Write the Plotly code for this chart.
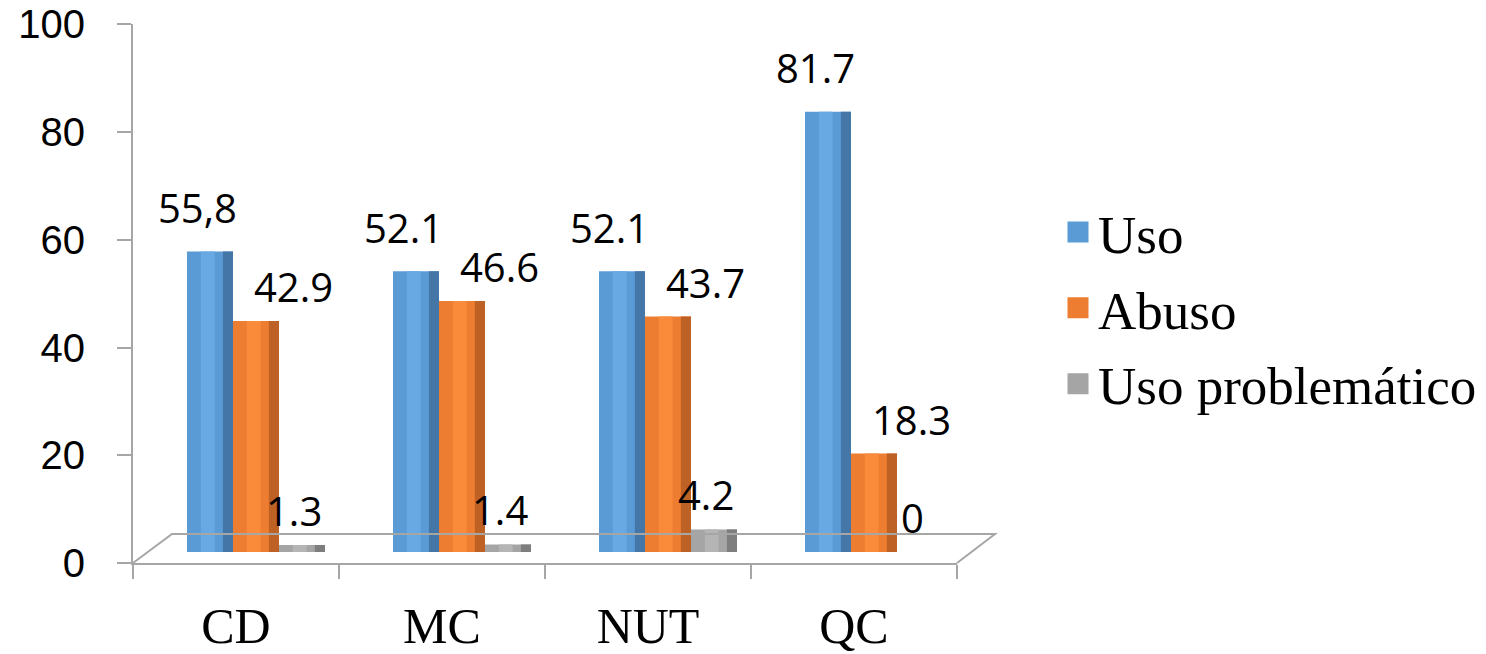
import plotly.graph_objects as go

categories = ["CD", "MC", "NUT", "QC"]
series_names = ["Uso", "Abuso", "Uso problemático"]
uso = [55.8, 52.1, 52.1, 81.7]
abuso = [42.9, 46.6, 43.7, 18.3]
uso_problematico = [1.3, 1.4, 4.2, 0]
uso_labels = ["55,8", "52.1", "52.1", "81.7"]
abuso_labels = ["42.9", "46.6", "43.7", "18.3"]
uso_problematico_labels = ["1.3", "1.4", "4.2", "0"]
y_ticks = [0, 20, 40, 60, 80, 100]

colors = ["#5B9BD5", "#ED7D31", "#A5A5A5"]
light_colors = ["#68A9E3", "#F98B3B", "#B5B5B5"]
dark_colors = ["#4476A8", "#BE6124", "#7E7E7E"]

W, H = 1486, 654
L, R, T, B = 133, 957, 24, 563
pw, ph = R - L, B - T
depth_dx, depth_dy = 20, 11  # half-depth offset of bars (px)

cat_px = pw / 4
bw = 46 / cat_px  # bar width in category units
offsets = [-1.5 * bw, -0.5 * bw, 0.5 * bw]

fig = go.Figure()

values = [uso, abuso, uso_problematico]
labels = [uso_labels, abuso_labels, uso_problematico_labels]
for name, vals, c, lc, dc, off in zip(series_names, values, colors, light_colors, dark_colors, offsets):
    fig.add_trace(go.Bar(
        x=categories, y=vals, name=name, marker=dict(color=c, line=dict(width=0)),
        width=bw, offset=off, xaxis="x2", yaxis="y2", showlegend=False,
        hoverinfo="x+y+name",
    ))
    # cylinder shading strips
    fig.add_trace(go.Bar(
        x=categories, y=vals, name=name, marker=dict(color=lc, line=dict(width=0)),
        width=bw * 0.3, offset=off + bw * 0.3, xaxis="x2", yaxis="y2", showlegend=False,
        hoverinfo="skip",
    ))
    fig.add_trace(go.Bar(
        x=categories, y=vals, name=name, marker=dict(color=dc, line=dict(width=0)),
        width=bw * 0.22, offset=off + bw * 0.78, xaxis="x2", yaxis="y2", showlegend=False,
        hoverinfo="skip",
    ))

# legend proxies
for name, c in zip(series_names, colors):
    fig.add_trace(go.Scatter(
        x=[None], y=[None], mode="markers", name=name, legendgroup=name,
        marker=dict(symbol="square", size=16, color=c, line=dict(color=c, width=5)),
        showlegend=True,
    ))

# data labels
label_dx = [-46 - 13, 37, 46 - 8]
label_dy = [44, 34, 35]
for vals, labs, dx, dy in zip(values, labels, label_dx, label_dy):
    for cat, v, t in zip(categories, vals, labs):
        fig.add_annotation(
            x=cat, y=v, xref="x2", yref="y2", text=t, showarrow=False,
            xshift=dx, yshift=dy, yanchor="middle", xanchor="center",
            font=dict(family="Open Sans", size=40, color="black"),
        )

# 3D floor outline
bx0 = 39 / pw
bx1 = 1 + 38 / pw
by = 29 / ph
fig.add_shape(type="path", xref="paper", yref="paper",
              path=f"M 0 0 L {bx0} {by} L {bx1} {by} L 1 0",
              line=dict(color="#A6A6A6", width=2))

shift_x = depth_dx / cat_px
shift_y = depth_dy / (ph / 100)

fig.update_layout(
    width=W, height=H,
    margin=dict(l=L, r=W - R, t=T, b=H - B, pad=0, autoexpand=False),
    paper_bgcolor="white", plot_bgcolor="white",
    barmode="overlay",
    showlegend=True,
    legend=dict(
        x=(1058 - L) / pw, y=(B - 308) / ph, xanchor="left", yanchor="middle",
        font=dict(family="Liberation Serif", size=53, color="black"),
        bgcolor="rgba(0,0,0,0)", itemsizing="trace",
        traceorder="grouped", tracegroupgap=4,
    ),
    xaxis=dict(
        type="category", categoryorder="array", categoryarray=categories,
        range=[-0.5, 3.5], showline=True, linecolor="#A6A6A6", linewidth=2,
        ticks="outside", tickson="boundaries", ticklen=14, tickcolor="#A6A6A6", tickwidth=2,
        showgrid=False, zeroline=False, automargin=False,
        tickfont=dict(family="Liberation Serif", size=50, color="black"),
        ticklabelstandoff=18, ticklabeloverflow="allow",
    ),
    yaxis=dict(
        range=[0, 100.05], tickvals=y_ticks, showline=True, linecolor="#A6A6A6", linewidth=2,
        ticks="outside", ticklen=14, tickcolor="#A6A6A6", tickwidth=2,
        showgrid=False, zeroline=False, automargin=False,
        tickfont=dict(family="Liberation Sans", size=40, color="black"),
        ticklabelstandoff=24, ticklabeloverflow="allow",
    ),
    xaxis2=dict(
        type="category", categoryorder="array", categoryarray=categories,
        overlaying="x", range=[-0.5 - shift_x, 3.5 - shift_x], visible=False,
    ),
    yaxis2=dict(
        overlaying="y", range=[-shift_y, 100.05 - shift_y], visible=False,
    ),
)

fig.write_html(
    "out.html",
    config={"displayModeBar": False},
    post_script="document.body.style.margin='0px';document.body.style.overflow='hidden';",
)
